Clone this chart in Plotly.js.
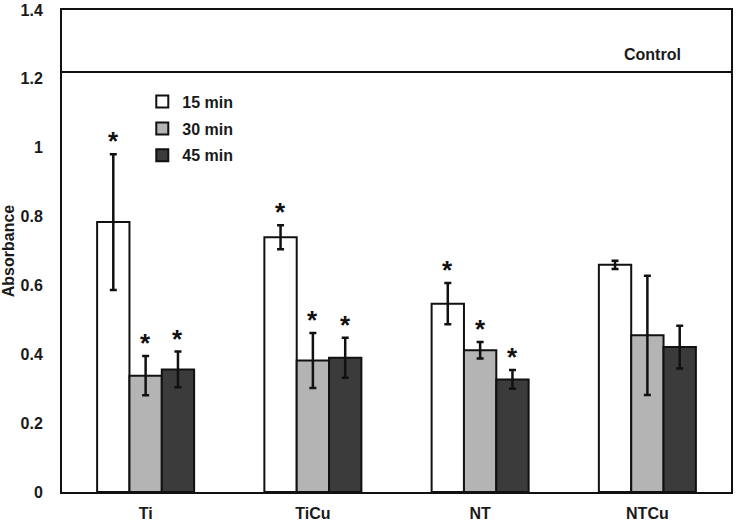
<!DOCTYPE html>
<html>
<head>
<meta charset="utf-8">
<script src="https://cdn.plot.ly/plotly-3.0.1.min.js"></script>
<style>
  html, body { margin: 0; padding: 0; background: #fff; }
  #grafico { width: 736px; height: 522px; }
</style>
</head>
<body>
<div id="grafico"></div>
<script>
// samples and exposure times
let muestras = ['Ti', 'TiCu', 'NT', 'NTCu'];
let tiempos = ['15 min', '30 min', '45 min'];

// mean absorbance per sample, one array per time
let abs15 = [0.784, 0.740, 0.547, 0.660];
let abs30 = [0.338, 0.382, 0.412, 0.455];
let abs45 = [0.356, 0.390, 0.327, 0.421];

// standard deviations
let err15 = [0.197, 0.035, 0.060, 0.012];
let err30 = [0.057, 0.080, 0.024, 0.173];
let err45 = [0.052, 0.058, 0.027, 0.062];

// significant difference vs control (1 = asterisk)
let sig15 = [1, 1, 1, 0];
let sig30 = [1, 1, 1, 0];
let sig45 = [1, 1, 1, 0];

// control level
let control = 1.22;

let colores = ['#ffffff', '#b4b4b4', '#3b3b3b'];
let medias = [abs15, abs30, abs45];
let errores = [err15, err30, err45];
let signif = [sig15, sig30, sig45];

let fuente = {family: '"Liberation Sans", Arial, sans-serif', size: 16, color: '#1a1a1a', weight: 'bold'};
let hueco = 0.42;
let anchoBarra = (1 - hueco) / tiempos.length;

let trazas = [];
for (let s = 0; s < tiempos.length; s++)
{
    trazas.push({
        x: muestras,
        y: medias[s],
        name: tiempos[s],
        legendgroup: 'g' + s,
        type: 'bar',
        marker: {color: colores[s], line: {color: '#111', width: 2}},
        error_y: {type: 'data', array: errores[s], visible: true, color: '#111', thickness: 2.5, width: 3.5}
    });
}

// asterisks above the error bars
let notas = [];
for (let s = 0; s < tiempos.length; s++)
{
    for (let i = 0; i < muestras.length; i++)
    {
        if (signif[s][i])
        {
            notas.push({
                x: i + (s - 1) * anchoBarra,
                y: medias[s][i] + errores[s][i],
                xref: 'x', yref: 'y',
                text: '*',
                showarrow: false,
                yanchor: 'bottom',
                yshift: -4,
                font: {family: '"Liberation Sans", Arial, sans-serif', size: 26, color: '#111'}
            });
        }
    }
}
notas.push({
    x: 3.03, y: control,
    xref: 'x', yref: 'y',
    text: 'Control',
    showarrow: false,
    yanchor: 'bottom',
    yshift: 7,
    font: fuente
});

let layout =
{
    width: 736,
    height: 522,
    margin: {l: 62, r: 5, t: 10, b: 30},
    paper_bgcolor: '#fff',
    plot_bgcolor: '#fff',
    font: fuente,
    barmode: 'group',
    bargap: hueco,
    bargroupgap: 0,
    xaxis: {
        type: 'category',
        range: [-0.5, 3.5],
        showline: true, mirror: true, linecolor: '#111', linewidth: 2,
        showgrid: false, zeroline: false, ticks: '',
        ticklabelstandoff: 6,
        tickfont: fuente
    },
    yaxis: {
        range: [0, 1.4],
        dtick: 0.2,
        showline: true, mirror: true, linecolor: '#111', linewidth: 2,
        showgrid: false, zeroline: false, ticks: '',
        ticklabelstandoff: 14,
        tickfont: fuente,
        title: {text: 'Absorbance', font: fuente, standoff: 6}
    },
    showlegend: true,
    legend: {
        x: 0.12, y: 0.845, xanchor: 'left', yanchor: 'top',
        bgcolor: 'rgba(0,0,0,0)',
        font: fuente,
        tracegroupgap: 3,
        itemwidth: 30
    },
    shapes: [{
        type: 'line', xref: 'paper', yref: 'y',
        x0: 0, x1: 1, y0: control, y1: control,
        line: {color: '#111', width: 2}
    }],
    annotations: notas
};

Plotly.newPlot(document.getElementById('grafico'), trazas, layout, {staticPlot: true});
</script>
</body>
</html>
